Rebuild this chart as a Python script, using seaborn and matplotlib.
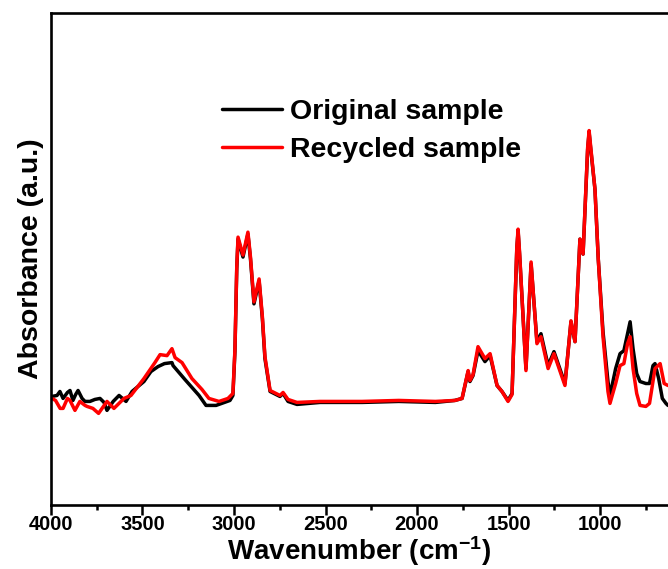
import numpy as np
import pandas as pd
import matplotlib
matplotlib.use("Agg")
import matplotlib.pyplot as plt
from matplotlib.ticker import MultipleLocator
import seaborn as sns

# ---- data (wavenumber in cm-1, absorbance in arbitrary units) ----
orig_wn = [3995, 3967, 3951, 3934, 3910, 3896, 3880, 3865, 3852, 3830, 3814, 3787, 3760,
           3732, 3710, 3694, 3660, 3628, 3590, 3557, 3492, 3454, 3415, 3380, 3339, 3333,
           3268, 3191, 3153, 3098, 3022, 3006, 2995, 2985, 2978, 2951, 2924, 2910, 2891,
           2863, 2845, 2831, 2803, 2749, 2732, 2705, 2656, 2530, 2300, 2100, 1900, 1793,
           1754, 1721, 1711, 1694, 1667, 1629, 1601, 1563, 1536, 1503, 1481, 1455, 1448,
           1440, 1405, 1377, 1345, 1323, 1284, 1252, 1192, 1159, 1137, 1110, 1093, 1068,
           1060, 1052, 1028, 1010, 984, 957, 946, 915, 891, 870, 850, 836, 820, 800, 782,
           750, 730, 711, 700, 680, 660, 640, 629]
orig_abs = [1.09, 1.10, 1.14, 1.07, 1.13, 1.15, 1.05, 1.11, 1.15, 1.07, 1.04, 1.04, 1.06,
            1.07, 1.03, 0.95, 1.04, 1.10, 1.04, 1.14, 1.24, 1.34, 1.39, 1.42, 1.43, 1.40,
            1.26, 1.10, 1.00, 1.00, 1.05, 1.10, 1.54, 2.37, 2.67, 2.49, 2.72, 2.47, 2.02,
            2.25, 1.87, 1.47, 1.14, 1.09, 1.12, 1.04, 1.01, 1.03, 1.03, 1.04, 1.03, 1.05,
            1.07, 1.34, 1.24, 1.30, 1.55, 1.44, 1.50, 1.20, 1.14, 1.05, 1.12, 2.57, 2.75,
            2.52, 1.37, 2.42, 1.64, 1.72, 1.40, 1.54, 1.22, 1.84, 1.64, 2.67, 2.52, 3.57,
            3.74, 3.59, 3.17, 2.47, 1.74, 1.24, 1.10, 1.37, 1.52, 1.55, 1.72, 1.84, 1.57,
            1.32, 1.24, 1.22, 1.22, 1.40, 1.42, 1.27, 1.07, 1.02, 1.00]

recy_wn = [3995, 3975, 3950, 3934, 3910, 3896, 3869, 3842, 3814, 3803, 3771, 3740, 3694,
           3656, 3601, 3563, 3492, 3432, 3404, 3366, 3339, 3322, 3284, 3230, 3175, 3137,
           3082, 3033, 3006, 2995, 2985, 2978, 2951, 2924, 2910, 2891, 2863, 2845, 2831,
           2803, 2749, 2732, 2705, 2656, 2530, 2300, 2100, 1900, 1793, 1754, 1721, 1711,
           1694, 1667, 1629, 1601, 1563, 1536, 1503, 1481, 1455, 1448, 1440, 1405, 1377,
           1345, 1323, 1284, 1252, 1192, 1159, 1137, 1110, 1093, 1068, 1060, 1052, 1028,
           1010, 984, 957, 946, 915, 891, 870, 850, 836, 820, 800, 782, 750, 730, 700, 672,
           650, 629]
recy_abs = [1.07, 1.05, 0.97, 0.97, 1.07, 1.05, 0.95, 1.04, 1.00, 0.99, 0.97, 0.92, 1.04,
            0.97, 1.07, 1.10, 1.27, 1.43, 1.51, 1.50, 1.57, 1.48, 1.43, 1.27, 1.16, 1.07,
            1.04, 1.07, 1.12, 1.56, 2.39, 2.69, 2.51, 2.74, 2.49, 2.04, 2.27, 1.89, 1.49,
            1.15, 1.10, 1.13, 1.06, 1.03, 1.04, 1.04, 1.05, 1.04, 1.05, 1.07, 1.35, 1.25,
            1.31, 1.59, 1.47, 1.52, 1.20, 1.14, 1.04, 1.11, 2.59, 2.77, 2.54, 1.35, 2.44,
            1.62, 1.69, 1.37, 1.52, 1.20, 1.85, 1.64, 2.67, 2.52, 3.59, 3.76, 3.61, 3.17,
            2.47, 1.69, 1.14, 1.02, 1.22, 1.40, 1.42, 1.62, 1.69, 1.37, 1.12, 1.00, 0.99,
            1.02, 1.37, 1.42, 1.22, 1.20]

series_names = ["Original sample", "Recycled sample"]
series_colors = ["#000000", "#ff0000"]
x_ticks = [4000, 3500, 3000, 2500, 2000, 1500, 1000]

df = pd.concat([
    pd.DataFrame({"wn": orig_wn, "A": orig_abs, "sample": series_names[0]}),
    pd.DataFrame({"wn": recy_wn, "A": recy_abs, "sample": series_names[1]}),
], ignore_index=True)

sns.set_style("ticks")
plt.rcParams["font.family"] = ["Liberation Sans", "DejaVu Sans"]
plt.rcParams["font.weight"] = "bold"
plt.rcParams["text.color"] = "black"
plt.rcParams["axes.labelcolor"] = "black"
plt.rcParams["xtick.color"] = "black"
plt.rcParams["ytick.color"] = "black"
plt.rcParams["mathtext.fontset"] = "custom"
plt.rcParams["mathtext.rm"] = "Liberation Sans:bold"
plt.rcParams["mathtext.it"] = "Liberation Sans:bold"
plt.rcParams["mathtext.bf"] = "Liberation Sans:bold"
plt.rcParams["mathtext.default"] = "rm"

fig = plt.figure(figsize=(6.68, 5.69), dpi=100)
ax = fig.add_axes([0.0763, 0.1125, 0.9237, 0.8645])

sns.lineplot(data=df, x="wn", y="A", hue="sample", hue_order=series_names,
             palette=series_colors, estimator=None, sort=True, linewidth=2.5,
             ax=ax, legend=True)

ax.set_xlim(4000, 629)
ax.set_ylim(0, 4.94)
ax.set_xticks(x_ticks)
ax.set_xticklabels([str(t) for t in x_ticks])
ax.xaxis.set_minor_locator(MultipleLocator(250))
ax.set_yticks([])
ax.tick_params(axis="x", which="major", direction="out", length=7, width=1.8,
               labelsize=14.5, pad=0.5, colors="black")
ax.tick_params(axis="x", which="minor", direction="out", length=3.5, width=1.8,
               colors="black")
for lab in ax.get_xticklabels():
    lab.set_fontweight("bold")

for s in ["left", "bottom", "top"]:
    ax.spines[s].set_linewidth(1.9)
    ax.spines[s].set_color("black")
ax.spines["right"].set_visible(False)

ax.set_xlabel("Wavenumber (cm$^{-1}$)", fontsize=20, fontweight="bold", labelpad=0)
ax.set_ylabel("Absorbance (a.u.)", fontsize=20.5, fontweight="bold", labelpad=5)

leg = ax.legend(loc="upper left", bbox_to_anchor=(0.254, 0.855), frameon=False,
                prop={"family": "Liberation Sans", "weight": "bold", "size": 20.5},
                handlelength=2.1, handletextpad=0.3, labelspacing=0.43, borderpad=0)
for line in leg.get_lines():
    line.set_linewidth(2.5)
for t in leg.get_texts():
    t.set_color("black")

fig.savefig("out.png", dpi=100)
